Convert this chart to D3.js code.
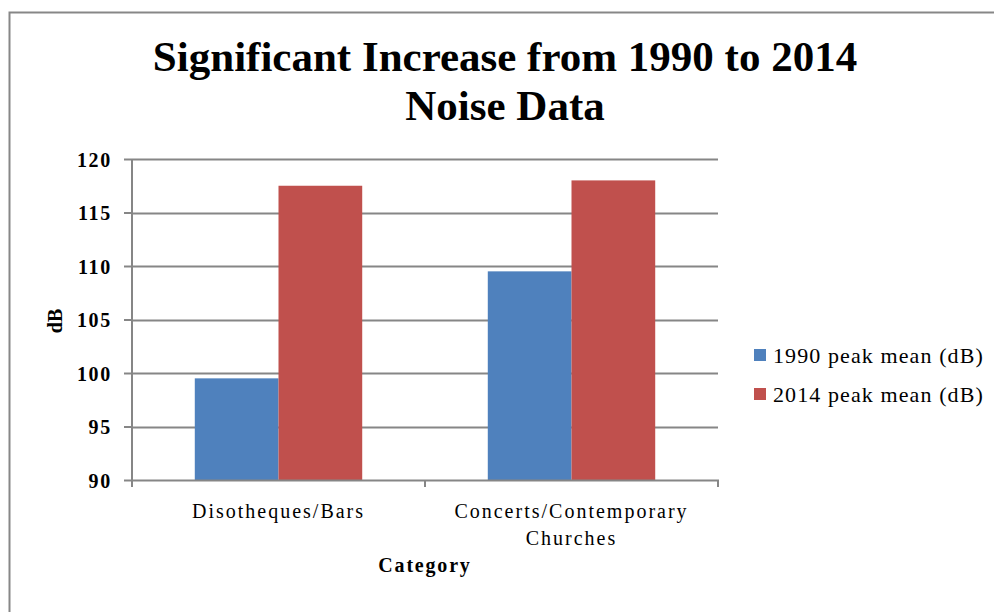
<!DOCTYPE html>
<html>
<head>
<meta charset="utf-8">
<script src="https://cdn.jsdelivr.net/npm/d3@7"></script>
<style>
  html, body { margin: 0; padding: 0; background: #fff; }
  svg { display: block; }
  text { font-family: "Liberation Serif", "Times New Roman", serif; fill: #000; }
</style>
</head>
<body>
<svg id="chart" width="994" height="612"></svg>
<script>
// ---- data ----
const categories = ["Disotheques/Bars", "Concerts/Contemporary Churches"];
const categoryLines = [["Disotheques/Bars"], ["Concerts/Contemporary", "Churches"]];
const seriesNames = ["1990 peak mean (dB)", "2014 peak mean (dB)"];
const values1990 = [99.5, 109.5];
const values2014 = [117.5, 118];
const yTicks = [90, 95, 100, 105, 110, 115, 120];
const titleLines = ["Significant Increase from 1990 to 2014", "Noise Data"];
const xTitle = "Category";
const yTitle = "dB";
const colors = ["#4F81BD", "#C0504D"];

// ---- layout ----
const svg = d3.select("#chart");
const grid = "#868686";
const plot = { left: 132, right: 718, top: 159, bottom: 480 };

// chart border (partial, as cropped in reference)
svg.append("path")
  .attr("d", "M9.5,612 L9.5,12.5 L994,12.5")
  .attr("fill", "none").attr("stroke", "#878787").attr("stroke-width", 2);

// title
const title = svg.append("text").attr("text-anchor", "middle")
  .style("font-size", "43px").style("font-weight", "bold");
title.selectAll("tspan").data(titleLines).join("tspan")
  .attr("x", 505).attr("y", (d, i) => 71 + i * 49)
  .text(d => d);

const x0 = d3.scaleBand().domain(categories).range([plot.left, plot.right]).paddingInner(0).paddingOuter(0);
const x1 = d3.scaleBand().domain(seriesNames).range([0, x0.bandwidth()]).paddingInner(0).paddingOuter(0.75);
const y = d3.scaleLinear().domain([90, 120]).range([plot.bottom, plot.top]);

// gridlines
svg.append("g").selectAll("line").data(yTicks.filter(t => t !== 90)).join("line")
  .attr("x1", plot.left).attr("x2", plot.right)
  .attr("y1", d => Math.round(y(d)) + 0.5).attr("y2", d => Math.round(y(d)) + 0.5)
  .attr("stroke", grid).attr("stroke-width", 2);

// bars
const data = categories.map((c, i) => ({ c, vals: [values1990[i], values2014[i]] }));
const groups = svg.append("g").selectAll("g").data(data).join("g")
  .attr("transform", d => `translate(${x0(d.c)},0)`);
groups.selectAll("rect").data(d => d.vals.map((v, j) => ({ v, s: seriesNames[j], j })))
  .join("rect")
  .attr("x", d => x1(d.s)).attr("width", x1.bandwidth())
  .attr("y", d => y(d.v)).attr("height", d => y(90) - y(d.v))
  .attr("fill", d => colors[d.j]);

// y axis
const yAxis = svg.append("g").attr("transform", `translate(${plot.left},0)`)
  .call(d3.axisLeft(y).tickValues(yTicks).tickSize(8).tickPadding(20).tickFormat(d3.format("d")));
yAxis.select(".domain").attr("stroke", grid).attr("stroke-width", 2).attr("d", `M0,${plot.top}V${plot.bottom + 7}`);
yAxis.selectAll(".tick line").attr("stroke", grid).attr("stroke-width", 2);
yAxis.selectAll(".tick text")
  .style("font-family", "'Liberation Serif', serif")
  .style("font-size", "20px").style("font-weight", "bold").style("letter-spacing", "1.7px")
  .attr("x", -20)
  .attr("dy", "0.35em").attr("fill", "#000");

// x axis
const xAxisG = svg.append("g").attr("transform", `translate(0,${plot.bottom})`);
xAxisG.append("line").attr("x1", plot.left).attr("x2", plot.right + 1)
  .attr("y1", 0.5).attr("y2", 0.5).attr("stroke", grid).attr("stroke-width", 2);
const xTickPos = categories.map(c => x0(c)).concat([x0(categories[categories.length - 1]) + x0.bandwidth()]);
xAxisG.selectAll("line.tk").data(xTickPos).join("line").attr("class", "tk")
  .attr("x1", d => d).attr("x2", d => d).attr("y1", 0).attr("y2", 7)
  .attr("stroke", grid).attr("stroke-width", 2);

const catText = svg.append("g").selectAll("text").data(categories).join("text")
  .attr("text-anchor", "middle")
  .style("font-size", "20px").style("letter-spacing", "2px");
catText.each(function(c, i) {
  d3.select(this).selectAll("tspan").data(categoryLines[i]).join("tspan")
    .attr("x", x0(c) + x0.bandwidth() / 2)
    .attr("y", (d, k) => 518 + k * 27)
    .text(d => d);
});

// axis titles
svg.append("text").attr("x", (plot.left + plot.right) / 2).attr("y", 572)
  .attr("text-anchor", "middle")
  .style("font-size", "20px").style("font-weight", "bold").style("letter-spacing", "1.8px")
  .text(xTitle);
svg.append("text").attr("transform", "translate(62,321) rotate(-90)")
  .attr("text-anchor", "middle")
  .style("font-size", "20px").style("font-weight", "bold")
  .text(yTitle);

// legend
const legend = svg.append("g").selectAll("g").data(seriesNames).join("g")
  .attr("transform", (d, i) => `translate(754,${349 + i * 39})`);
legend.append("rect").attr("width", 12).attr("height", 12).attr("fill", (d, i) => colors[i]);
legend.append("text").attr("x", 19).attr("y", 14)
  .style("font-size", "22px").style("letter-spacing", "1.1px")
  .text(d => d);
</script>
</body>
</html>
